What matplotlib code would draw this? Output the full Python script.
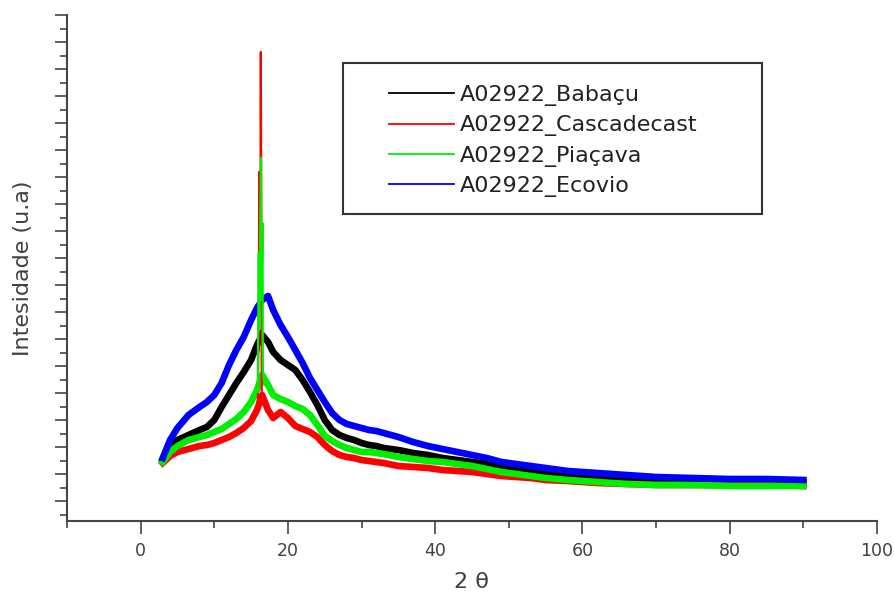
import matplotlib
matplotlib.use("Agg")
import matplotlib.pyplot as plt
from matplotlib.ticker import MultipleLocator
from matplotlib.lines import Line2D
from matplotlib.patches import Rectangle

# 2-theta positions (degrees) for the broad amorphous profiles
two_theta = [3, 4, 5, 6.5, 8, 9, 10, 11, 12, 13, 14, 15, 15.8, 16.5, 17.3, 18, 19, 20,
             21, 22, 23, 24, 25, 26, 27, 28, 29, 30, 31, 32, 33, 35, 37, 39, 41, 43,
             45, 47, 49, 51, 53, 55, 58, 62, 66, 70, 75, 80, 85, 90]

# intensities (a.u.)
babacu = [610, 730, 810, 860, 910, 940, 1010, 1140, 1260, 1380, 1490, 1610, 1760, 1860,
          1790, 1690, 1610, 1560, 1510, 1410, 1290, 1160, 1010, 910, 860, 830, 810, 780,
          760, 750, 730, 710, 680, 660, 630, 610, 590, 570, 550, 530, 510, 490, 470, 450,
          430, 420, 410, 400, 400, 390]
cascadecast = [580, 650, 690, 720, 750, 760, 780, 810, 840, 880, 930, 1000, 1110, 1260,
               1110, 1030, 1090, 1030, 950, 920, 890, 840, 760, 700, 660, 640, 630, 610,
               600, 590, 580, 550, 540, 530, 510, 500, 490, 470, 450, 440, 430, 410, 400,
               380, 370, 360, 360, 360, 360, 350]
piacava = [590, 690, 750, 810, 840, 860, 890, 920, 970, 1020, 1090, 1190, 1310, 1460,
           1360, 1260, 1220, 1190, 1150, 1120, 1060, 960, 850, 800, 760, 730, 710, 690,
           690, 680, 670, 640, 620, 600, 590, 570, 550, 520, 490, 470, 450, 430, 410,
           390, 370, 360, 360, 350, 350, 350]
ecovio = [630, 810, 930, 1060, 1140, 1190, 1260, 1380, 1560, 1710, 1840, 2010, 2130, 2210,
          2250, 2110, 1960, 1840, 1710, 1580, 1430, 1310, 1190, 1080, 1010, 970, 950, 930,
          910, 900, 880, 840, 790, 750, 720, 690, 660, 630, 590, 570, 550, 530, 500, 480,
          460, 440, 430, 420, 420, 410]

# sharp crystalline reflection near 16.3 degrees
cascadecast_peak_x = [15.9, 16.05, 16.1, 16.15, 16.28, 16.32, 16.45, 16.7]
cascadecast_peak_y = [1110, 2210, 3490, 2680, 3210, 4690, 1230, 1160]
piacava_peak_x = [15.9, 16.05, 16.1, 16.35, 16.4, 16.55, 16.6, 16.8]
piacava_peak_y = [1290, 2680, 1910, 3630, 2210, 2980, 1510, 1360]
babacu_peak_x = [16.0, 16.3, 16.45, 16.7]
babacu_peak_y = [1700, 1910, 1800, 1810]

labels = ["A02922_Babaçu", "A02922_Cascadecast", "A02922_Piaçava", "A02922_Ecovio"]
colors = ["#000000", "#ff0000", "#00ee00", "#0000ff"]

fig = plt.figure(figsize=(8.95, 5.96), dpi=100)
ax = fig.add_axes([67 / 895, 75 / 596, 810 / 895, 506 / 596])

lw = 4.8
ax.plot(two_theta, babacu, color=colors[0], lw=lw)
ax.plot(two_theta, cascadecast, color=colors[1], lw=lw)
ax.plot(two_theta, piacava, color=colors[2], lw=lw)
ax.plot(two_theta, ecovio, color=colors[3], lw=lw)
ax.plot(babacu_peak_x, babacu_peak_y, color=colors[0], lw=1.6)
ax.plot(cascadecast_peak_x, cascadecast_peak_y, color=colors[1], lw=1.6)
ax.plot(piacava_peak_x, piacava_peak_y, color=colors[2], lw=1.6)

ax.set_xlim(-10, 100)
ax.set_ylim(0, 5060)

ax.xaxis.set_major_locator(MultipleLocator(20))
ax.xaxis.set_minor_locator(MultipleLocator(10))
ax.yaxis.set_major_locator(MultipleLocator(270, offset=200))
ax.yaxis.set_minor_locator(MultipleLocator(135, offset=65))
ax.set_yticklabels([])
ax.tick_params(axis="both", which="major", direction="out", length=9, width=1.2,
               color="#444444")
ax.tick_params(axis="both", which="minor", direction="out", length=5, width=1.2,
               color="#444444")
ax.tick_params(axis="x", labelsize=12.5, labelcolor="#404040", pad=6)
for t in ax.get_xticklabels():
    t.set_family(["DejaVu Sans"])

for s in ["top", "right"]:
    ax.spines[s].set_visible(False)
for s in ["left", "bottom"]:
    ax.spines[s].set_color("#444444")
    ax.spines[s].set_linewidth(1.5)

ax.set_xlabel("2 θ", fontsize=16, color="#404040", family=["DejaVu Sans"],
              labelpad=9)
ax.set_ylabel("Intesidade (u.a)", fontsize=16, color="#404040",
              family=["DejaVu Sans"], labelpad=12)

handles = [Line2D([], [], color=c, lw=1.3) for c in colors]
leg = ax.legend(handles, labels, loc="upper left",
                bbox_to_anchor=(378 / 895, 1 - 74 / 596), bbox_transform=fig.transFigure,
                frameon=False, borderpad=0, handlelength=2.9, handletextpad=0.3,
                labelspacing=0.42, prop={"family": ["DejaVu Sans"], "size": 16})
for t in leg.get_texts():
    t.set_color("#222222")

fig.add_artist(Rectangle((343 / 895, 1 - 214 / 596), 419 / 895, 151 / 596,
                         transform=fig.transFigure, fill=False, edgecolor="#333333",
                         lw=1.5))

fig.savefig("out.png", dpi=100)
